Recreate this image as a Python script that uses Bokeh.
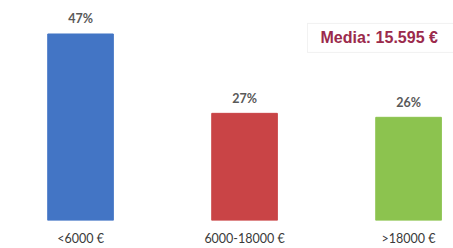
from bokeh.plotting import figure
from bokeh.models import Range1d, BoxAnnotation, Label, ColumnDataSource, FixedTicker
from bokeh.embed import file_html
from bokeh.resources import INLINE
from bokeh.core.properties import value

categories = ["<6000 €", "6000-18000 €", ">18000 €"]
percentages = [47, 27, 26]
colors = ["#4375C5", "#C94446", "#8CC34F"]
media_text = "Media: 15.595 €"

xs = list(range(len(categories)))
src = ColumnDataSource(dict(
    x=xs, top=percentages, color=colors,
    label=[f"{v}%" for v in percentages],
))

p = figure(width=453, height=248, output_backend="svg", toolbar_location=None,
           x_range=Range1d(-0.488, 2.274), y_range=Range1d(0, 55.44),
           min_border_left=0, min_border_right=0, min_border_top=0,
           min_border_bottom=28)
p.outline_line_color = None
p.grid.visible = False
p.yaxis.visible = False
p.background_fill_color = "white"
p.border_fill_color = "white"

p.vbar(x="x", top="top", bottom=0, width=0.40, color="color", source=src)
p.text(x="x", y="top", text="label", source=src, text_align="center",
       text_baseline="middle", y_offset=-15, text_font=value("Lato"),
       text_font_size="12.5px", text_font_style="bold", text_color="#595959")

ax = p.xaxis[0]
ax.ticker = FixedTicker(ticks=xs)
ax.major_label_overrides = {i: c for i, c in enumerate(categories)}
ax.axis_line_color = None
ax.major_tick_line_color = None
ax.minor_tick_line_color = None
ax.major_tick_out = 0
ax.major_label_standoff = 10
ax.major_label_text_font = "Lato"
ax.major_label_text_font_size = "12.5px"
ax.major_label_text_color = "#3a3a3a"

box = BoxAnnotation(left=1.384, right=3.0, bottom=42.34, top=49.65,
                    fill_color="white", fill_alpha=1.0,
                    line_color="#cfcfcf", line_width=1)
p.add_layout(box)
p.add_layout(Label(x=1.463, y=46.0, text=media_text, text_baseline="middle",
                   text_align="left", text_font="Liberation Sans",
                   text_font_size="16px", text_font_style="bold",
                   text_color="#9B2A4C"))

open("out.html", "w").write(file_html(p, INLINE))
